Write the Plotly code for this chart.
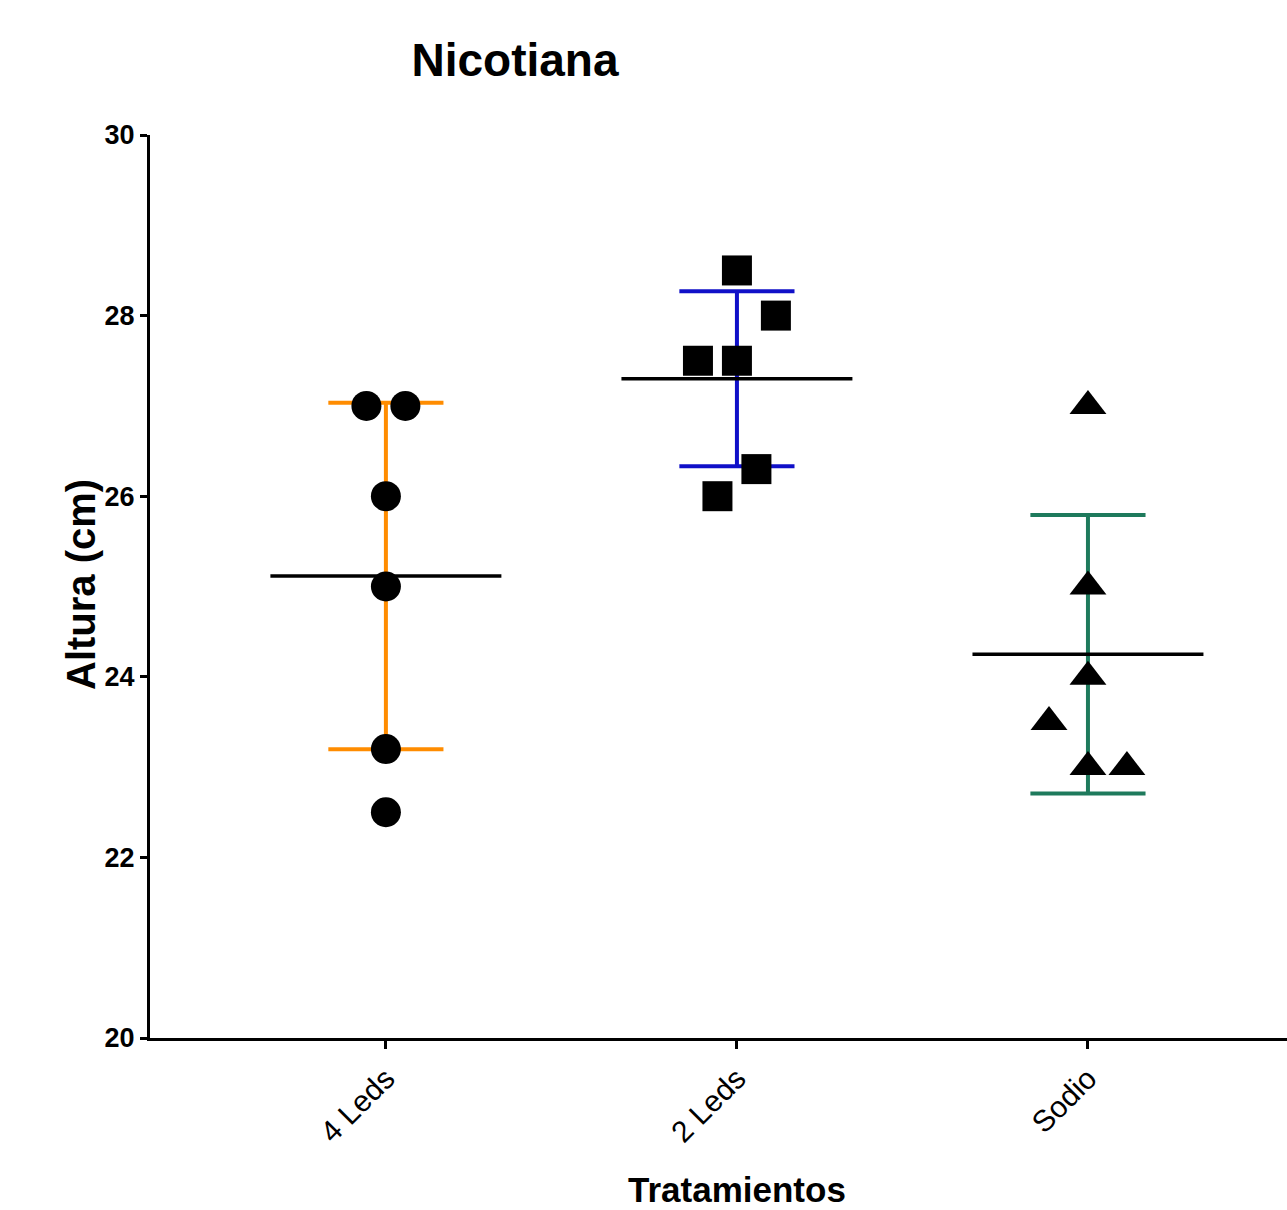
import plotly.graph_objects as go
import numpy as np

# ---- data ----
categories = ["4 Leds", "2 Leds", "Sodio"]
vals_4leds = [27.0, 27.0, 26.0, 25.0, 23.2, 22.5]
vals_2leds = [28.5, 28.0, 27.5, 27.5, 26.3, 26.0]
vals_sodio = [27.0, 25.0, 24.0, 23.5, 23.0, 23.0]
y_ticks = [20, 22, 24, 26, 28, 30]

# ---- style / layout ----
series = [vals_4leds, vals_2leds, vals_sodio]
bar_colors = ["#FF8C00", "#1010C8", "#1E7A5C"]
symbols = ["circle", "square", "triangle-up"]
marker_sizes = [30, 30, 32]
# horizontal dodge slots for overlapping points (scatter-dot style)
dodge = [
    [-0.5, 0.5, 0, 0, 0, 0],
    [0, 1, -1, 0, 0.5, -0.5],
    [0, 0, 0, -1, 0, 1],
]
slot_w = 0.111
mean_hw = 0.329
cap_hw = 0.164
FONT = "Liberation Sans, Arial, sans-serif"

fig = go.Figure()

for i, vals in enumerate(series):
    v = np.array(vals)
    m = v.mean()
    sd = v.std(ddof=1)
    c = bar_colors[i]
    fig.add_trace(go.Scatter(
        x=[i, i, None, i - cap_hw, i + cap_hw, None, i - cap_hw, i + cap_hw],
        y=[m - sd, m + sd, None, m + sd, m + sd, None, m - sd, m - sd],
        mode="lines", line=dict(color=c, width=4), hoverinfo="skip", showlegend=False))
    fig.add_trace(go.Scatter(
        x=[i - mean_hw, i + mean_hw], y=[m, m], mode="lines",
        line=dict(color="black", width=3.5), hoverinfo="skip", showlegend=False))

for i, vals in enumerate(series):
    xs = [i + d * slot_w for d in dodge[i]]
    fig.add_trace(go.Scatter(
        x=xs, y=vals, mode="markers",
        marker=dict(symbol=symbols[i], size=marker_sizes[i], color="black", line=dict(width=0)),
        name=categories[i], showlegend=False))

fig.update_layout(
    width=1287, height=1210,
    margin=dict(l=150, r=0, t=135, b=172),
    plot_bgcolor="white", paper_bgcolor="white",
    title=dict(text="<b>Nicotiana</b>", x=(515 - 150) / 1137, xref="paper", xanchor="center",
               y=1 - 60 / 1210, yanchor="middle",
               font=dict(family=FONT, size=46, color="black")),
    annotations=[
        dict(text="<b>Altura (cm)</b>", xref="paper", yref="paper",
             x=(81 - 150) / 1137, y=(1038 - 585) / 903, xanchor="center", yanchor="middle",
             textangle=-90, showarrow=False,
             font=dict(family=FONT, size=40, color="black")),
        dict(text="<b>Tratamientos</b>", xref="paper", yref="paper",
             x=(737 - 150) / 1137, y=(1038 - 1189) / 903, xanchor="center", yanchor="middle",
             showarrow=False,
             font=dict(family=FONT, size=35, color="black")),
    ],
)

fig.update_xaxes(
    range=[-0.672, 2.567], tickmode="array", tickvals=[0, 1, 2], ticktext=categories,
    tickangle=-45, ticks="outside", ticklen=8, tickwidth=3, tickcolor="black",
    showline=True, linecolor="black", linewidth=3, showgrid=False, zeroline=False,
    tickfont=dict(family=FONT, size=30, color="black"),
    automargin=False,
)
fig.update_yaxes(
    range=[20, 30], tickmode="array", tickvals=y_ticks, ticktext=[str(t) for t in y_ticks],
    ticks="outside", ticklen=7, tickwidth=3, tickcolor="black",
    showline=True, linecolor="black", linewidth=3, showgrid=False, zeroline=False,
    tickfont=dict(family=FONT, size=27, color="black", weight="bold"),
    automargin=False,
)

fig.write_html("out.html", config={"displayModeBar": False},
               post_script="document.body.style.margin='0px';")
